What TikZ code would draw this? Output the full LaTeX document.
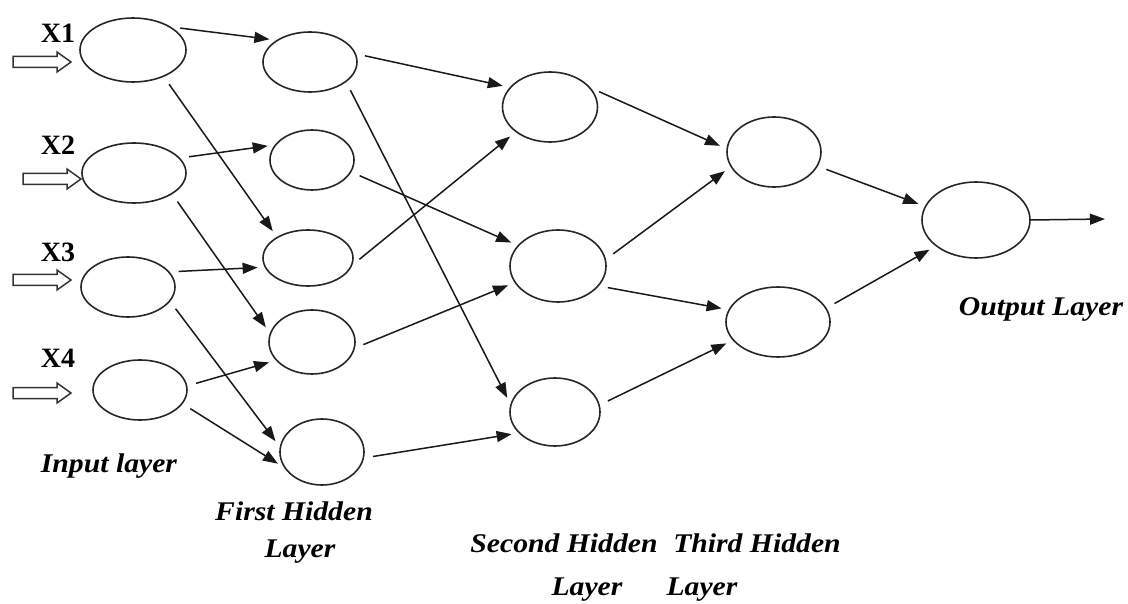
\documentclass[tikz,border=0pt]{standalone}
\usepackage{fontspec}
\usetikzlibrary{shapes.geometric,arrows.meta}
\newfontfamily\labfont[FakeStretch=1.1]{Liberation Serif}
\newfontfamily\xfont{Liberation Serif}
\begin{document}
\begin{tikzpicture}[x=1pt,y=-1pt,
  neuron/.style={ellipse,draw=black!85,line width=1.6pt,inner sep=0pt},
  conn/.style={line width=1.5pt,draw=black!90,-{Triangle[length=15pt,width=11pt]},
    shorten <=9pt,shorten >=7pt},
  xlab/.style={anchor=base,inner sep=0pt,font=\xfont\bfseries\fontsize{28}{30}\selectfont},
  lab/.style={anchor=base,inner sep=0pt,font=\labfont\bfseries\itshape\fontsize{27}{30}\selectfont},
  inarrow/.pic={\draw[line width=1.5pt,draw=black!80,line join=miter]
    (0,-5.5) -- (44,-5.5) -- (44,-10) -- (58,0) -- (44,10) -- (44,5.5) -- (0,5.5) -- cycle;}]
\useasboundingbox (0,0) rectangle (1128,604);

% input layer
\node[neuron,minimum width=106pt,minimum height=64pt] (i1) at (133,50) {};
\node[neuron,minimum width=104pt,minimum height=60pt] (i2) at (134,173) {};
\node[neuron,minimum width=94pt,minimum height=60pt] (i3) at (128,287) {};
\node[neuron,minimum width=94pt,minimum height=60pt] (i4) at (140,390) {};

% first hidden layer
\node[neuron,minimum width=94pt,minimum height=60pt] (h11) at (310,62) {};
\node[neuron,minimum width=84pt,minimum height=60pt] (h12) at (312,160) {};
\node[neuron,minimum width=90pt,minimum height=56pt] (h13) at (308,258) {};
\node[neuron,minimum width=86pt,minimum height=64pt] (h14) at (312,342) {};
\node[neuron,minimum width=84pt,minimum height=66pt] (h15) at (322,452) {};

% second hidden layer
\node[neuron,minimum width=95pt,minimum height=70pt] (h21) at (550,107) {};
\node[neuron,minimum width=96pt,minimum height=72pt] (h22) at (558,266) {};
\node[neuron,minimum width=90pt,minimum height=68pt] (h23) at (555,412) {};

% third hidden layer
\node[neuron,minimum width=94pt,minimum height=70pt] (h31) at (774,152) {};
\node[neuron,minimum width=104pt,minimum height=70pt] (h32) at (778,322) {};

% output layer
\node[neuron,minimum width=108pt,minimum height=76pt] (o) at (976,220) {};
\coordinate (out) at (1105,219);

% inputs
\pic at (13,62) {inarrow};
\pic at (23,179) {inarrow};
\pic at (13,280) {inarrow};
\pic at (13,393) {inarrow};
\node[xlab] (x1) at (58,43) {X1};
\node[xlab] (x2) at (58,155) {X2};
\node[xlab] (x3) at (58,262) {X3};
\node[xlab] (x4) at (58,367) {X4};

% input -> first hidden
\draw[conn] (i1.31) -- (h11.147);
\draw[conn] (i1.-41) -- (h13.146);
\draw[conn] (i2.18) -- (h12.158);
\draw[conn] (i2.-29) -- (h14.168);
\draw[conn] (i3.20) -- (h13.192);
\draw[conn] (i3.-19) -- (h15.173);
\draw[conn] (i4.5) -- (h14.207);
\draw[conn] (i4.-18) -- (h15.202);

% first -> second hidden
\draw[conn] (h11.10) -- (h21.154);
\draw[conn] (h11.-29) -- (h23.170);
\draw[conn] (h12.-17) -- (h22.153);
\draw[conn] (h13.-9) -- (h21.216);
\draw[conn] (h14.-8) -- (h22.201);
\draw[conn] (h15.-8) -- (h23.210);

% second -> third hidden
\draw[conn] (h21.25) -- (h31.176);
\draw[conn] (h22.8) -- (h31.199);
\draw[conn] (h22.-26) -- (h32.166);
\draw[conn] (h23.9) -- (h32.202);

% third hidden -> output
\draw[conn] (h31.-18) -- (o.165);
\draw[conn] (h32.16) -- (o.213);
\draw[conn,shorten <=0pt,shorten >=0pt] (o.east) -- (out);

% layer captions
\node[lab] (t0) at (109,472) {Input layer};
\node[lab] (t1a) at (294,520) {First Hidden};
\node[lab] (t1b) at (300,557) {Layer};
\node[lab] (t2a) at (564,552) {Second Hidden};
\node[lab] (t2b) at (587,595) {Layer};
\node[lab] (t3a) at (757,552) {Third Hidden};
\node[lab] (t3b) at (702,595) {Layer};
\node[lab] (t4) at (1041,316) {Output Layer};
\end{tikzpicture}
\end{document}
